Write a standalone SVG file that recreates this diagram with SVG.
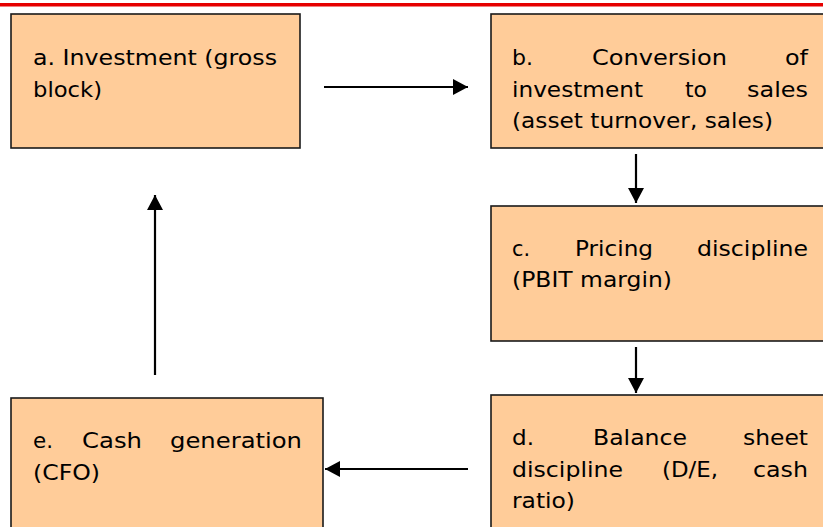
<svg xmlns="http://www.w3.org/2000/svg" width="823" height="527" viewBox="0 0 823 527">
<style>
.box{fill:#FFCC99;stroke:#1a1a1a;stroke-width:1.6}
.t{font-family:"DejaVu Sans","Noto Sans",sans-serif;font-size:21.5px;fill:#000}
.conn{stroke:#000;stroke-width:2.2;fill:none;marker-end:url(#ah)}
</style>
<defs>
<marker id="ah" viewBox="0 0 15 16" refX="15" refY="8" markerWidth="15" markerHeight="16" markerUnits="userSpaceOnUse" orient="auto">
<path d="M0,0 L15,8 L0,16 Z" fill="#000"/>
</marker>
</defs>
<rect x="0" y="3" width="823" height="3.5" fill="#E60000"/>
<g id="a">
<rect class="box" x="11" y="14" width="289" height="134"/>
<text class="t" x="33" y="65" textLength="244" lengthAdjust="spacingAndGlyphs">a. Investment (gross</text>
<text class="t" x="33" y="97" textLength="69" lengthAdjust="spacingAndGlyphs">block)</text>
</g>
<g id="b">
<rect class="box" x="491" y="14" width="340" height="134"/>
<text class="t" x="512" y="65" textLength="21" lengthAdjust="spacingAndGlyphs">b.</text>
<text class="t" x="592" y="65" textLength="135" lengthAdjust="spacingAndGlyphs">Conversion</text>
<text class="t" x="785" y="65" textLength="23" lengthAdjust="spacingAndGlyphs">of</text>
<text class="t" x="512" y="97" textLength="131" lengthAdjust="spacingAndGlyphs">investment</text>
<text class="t" x="685" y="97" textLength="22" lengthAdjust="spacingAndGlyphs">to</text>
<text class="t" x="747" y="97" textLength="61" lengthAdjust="spacingAndGlyphs">sales</text>
<text class="t" x="512" y="128" textLength="261" lengthAdjust="spacingAndGlyphs">(asset turnover, sales)</text>
</g>
<g id="c">
<rect class="box" x="491" y="206" width="340" height="135"/>
<text class="t" x="512" y="256" textLength="18" lengthAdjust="spacingAndGlyphs">c.</text>
<text class="t" x="575" y="256" textLength="78" lengthAdjust="spacingAndGlyphs">Pricing</text>
<text class="t" x="697" y="256" textLength="111" lengthAdjust="spacingAndGlyphs">discipline</text>
<text class="t" x="512" y="287" textLength="160" lengthAdjust="spacingAndGlyphs">(PBIT margin)</text>
</g>
<g id="d">
<rect class="box" x="491" y="395" width="340" height="140"/>
<text class="t" x="512" y="445" textLength="22" lengthAdjust="spacingAndGlyphs">d.</text>
<text class="t" x="593" y="445" textLength="94" lengthAdjust="spacingAndGlyphs">Balance</text>
<text class="t" x="743" y="445" textLength="65" lengthAdjust="spacingAndGlyphs">sheet</text>
<text class="t" x="512" y="477" textLength="111" lengthAdjust="spacingAndGlyphs">discipline</text>
<text class="t" x="662" y="477" textLength="56" lengthAdjust="spacingAndGlyphs">(D/E,</text>
<text class="t" x="753" y="477" textLength="55" lengthAdjust="spacingAndGlyphs">cash</text>
<text class="t" x="512" y="508" textLength="63" lengthAdjust="spacingAndGlyphs">ratio)</text>
</g>
<g id="e">
<rect class="box" x="11" y="398" width="312" height="140"/>
<text class="t" x="33" y="448" textLength="20" lengthAdjust="spacingAndGlyphs">e.</text>
<text class="t" x="82" y="448" textLength="60" lengthAdjust="spacingAndGlyphs">Cash</text>
<text class="t" x="170" y="448" textLength="132" lengthAdjust="spacingAndGlyphs">generation</text>
<text class="t" x="33" y="480" textLength="67" lengthAdjust="spacingAndGlyphs">(CFO)</text>
</g>
<g id="connectors">
<line class="conn" x1="324" y1="87" x2="468" y2="87"/>
<line class="conn" x1="636" y1="154" x2="636" y2="203"/>
<line class="conn" x1="636" y1="347" x2="636" y2="393"/>
<line class="conn" x1="468" y1="469" x2="325" y2="469"/>
<line class="conn" x1="155" y1="375" x2="155" y2="195"/>
</g>
</svg>
